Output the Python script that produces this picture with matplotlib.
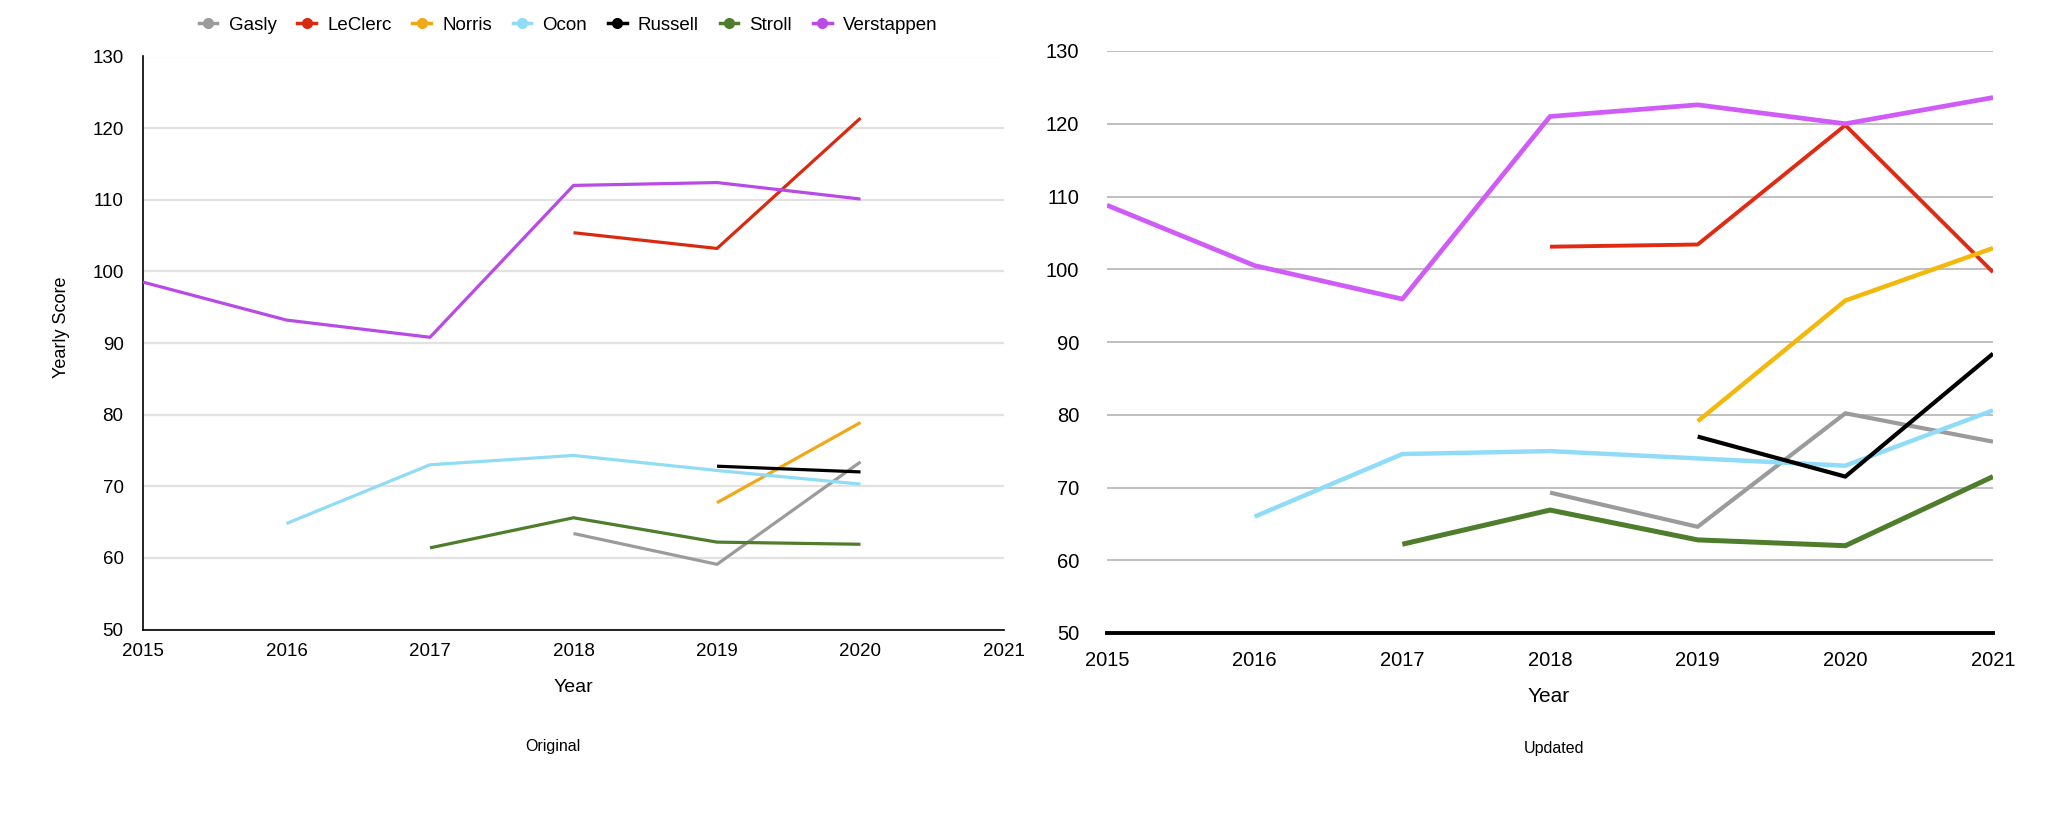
# two-panel comparison of driver yearly scores: original vs updated ratings

import matplotlib.pyplot as plt
from matplotlib.lines import Line2D
import numpy as np

nan = np.nan

DRIVERS = ["Gasly", "LeClerc", "Norris", "Ocon", "Russell", "Stroll", "Verstappen"]

YEARS_ORIGINAL = [2015, 2016, 2017, 2018, 2019, 2020]
YEARS_UPDATED = [2015, 2016, 2017, 2018, 2019, 2020, 2021]

# original scores, one list per driver (nan = no season)
orig_gasly      = [nan, nan, nan, 63.4, 59.1, 73.4]
orig_leclerc    = [nan, nan, nan, 105.4, 103.2, 121.4]
orig_norris     = [nan, nan, nan, nan, 67.7, 78.9]
orig_ocon       = [nan, 64.8, 73.0, 74.3, 72.2, 70.3]
orig_russell    = [nan, nan, nan, nan, 72.8, 72.0]
orig_stroll     = [nan, nan, 61.4, 65.6, 62.2, 61.9]
orig_verstappen = [98.5, 93.2, 90.8, 112.0, 112.4, 110.1]

# updated scores
upd_gasly      = [nan, nan, nan, 69.3, 64.6, 80.2, 76.3]
upd_leclerc    = [nan, nan, nan, 103.1, 103.4, 119.8, 99.6]
upd_norris     = [nan, nan, nan, nan, 79.1, 95.7, 102.9]
upd_ocon       = [nan, 66.0, 74.6, 75.0, 74.0, 73.0, 80.6]
upd_russell    = [nan, nan, nan, nan, 77.0, 71.5, 88.4]
upd_stroll     = [nan, nan, 62.2, 66.9, 62.8, 62.0, 71.5]
upd_verstappen = [108.8, 100.5, 95.9, 121.0, 122.6, 120.0, 123.6]

Y_TICKS = [50, 60, 70, 80, 90, 100, 110, 120, 130]
X_TICKS = [2015, 2016, 2017, 2018, 2019, 2020, 2021]

COLOURS_LEFT = ["#9b9b9b", "#d92a10", "#f0a818", "#90dcf4", "#000000", "#4e7d2c", "#b84ae6"]
COLOURS_RIGHT = ["#9b9b9b", "#e02a14", "#f2b80c", "#90dcf8", "#000000", "#4e7d2c", "#d05cf7"]

plt.rcParams.update({
    "font.family": ["Liberation Sans", "DejaVu Sans"],
    "font.size": 13,
})

fig = plt.figure(figsize=(20.48, 8.24), dpi=100)

ax_l = fig.add_axes([143 / 2048, 1 - 629.5 / 824, 861 / 2048, 573 / 824])
ax_r = fig.add_axes([1107 / 2048, 1 - 633 / 824, 886 / 2048, 582 / 824])

orig_series = [orig_gasly, orig_leclerc, orig_norris, orig_ocon, orig_russell, orig_stroll, orig_verstappen]
upd_series = [upd_gasly, upd_leclerc, upd_norris, upd_ocon, upd_russell, upd_stroll, upd_verstappen]

# left panel - original
for vals, col in zip(orig_series, COLOURS_LEFT):
    ax_l.plot(YEARS_ORIGINAL, vals, color=col, lw=2.3, solid_capstyle="butt", zorder=3)

# right panel - updated, slightly heavier lines
widths_r = [3.0, 2.8, 3.2, 3.2, 3.0, 3.6, 3.4]
for vals, col, lw in zip(upd_series, COLOURS_RIGHT, widths_r):
    ax_r.plot(YEARS_UPDATED, vals, color=col, lw=lw, solid_capstyle="butt", zorder=3)

for ax in (ax_l, ax_r):
    ax.set_xlim(2015, 2021)
    ax.set_ylim(50, 130)
    ax.set_xticks(X_TICKS)
    ax.set_yticks(Y_TICKS)
    ax.spines["top"].set_visible(False)
    ax.spines["right"].set_visible(False)
    ax.tick_params(length=0, labelsize=13.5)

# left style: light grid, thin black axes
ax_l.grid(axis="y", color="#e2e2e2", lw=1.6, zorder=0)
ax_l.spines["left"].set_linewidth(1.2)
ax_l.spines["bottom"].set_linewidth(1.2)
ax_l.tick_params(axis="y", pad=14)
ax_l.tick_params(axis="x", pad=10)

# right style: darker grid, no left spine, heavy baseline
ax_r.grid(axis="y", color="#b4b4b4", lw=1.2, zorder=0)
ax_r.spines["left"].set_visible(False)
ax_r.spines["bottom"].set_linewidth(2.8)
ax_r.spines["bottom"].set_zorder(4)
ax_r.tick_params(axis="y", pad=20, labelsize=14.5)
ax_r.tick_params(axis="x", pad=13, labelsize=14.5)

fig.text(573 / 2048, 1 - 688 / 824, "Year", ha="center", va="center", fontsize=14)
fig.text(1549 / 2048, 1 - 696 / 824, "Year", ha="center", va="center", fontsize=15)
fig.text(61 / 2048, 1 - 327 / 824, "Yearly Score", ha="center", va="center",
         rotation=90, fontsize=13)
fig.text(553 / 2048, 1 - 747 / 824, "Original", ha="center", va="center", fontsize=11.5)
fig.text(1554 / 2048, 1 - 749 / 824, "Updated", ha="center", va="center", fontsize=11.5)

handles = [
    Line2D([0], [0], color=c, lw=2.5, marker="o", markersize=8, markeredgewidth=0)
    for c in COLOURS_LEFT
]
fig.legend(handles, DRIVERS, loc="center", bbox_to_anchor=(568 / 2048, 1 - 25 / 824),
           ncol=7, frameon=False, fontsize=13.5, handlelength=1.0,
           handletextpad=0.6, columnspacing=1.1)

fig.savefig("out.png", dpi=100)
